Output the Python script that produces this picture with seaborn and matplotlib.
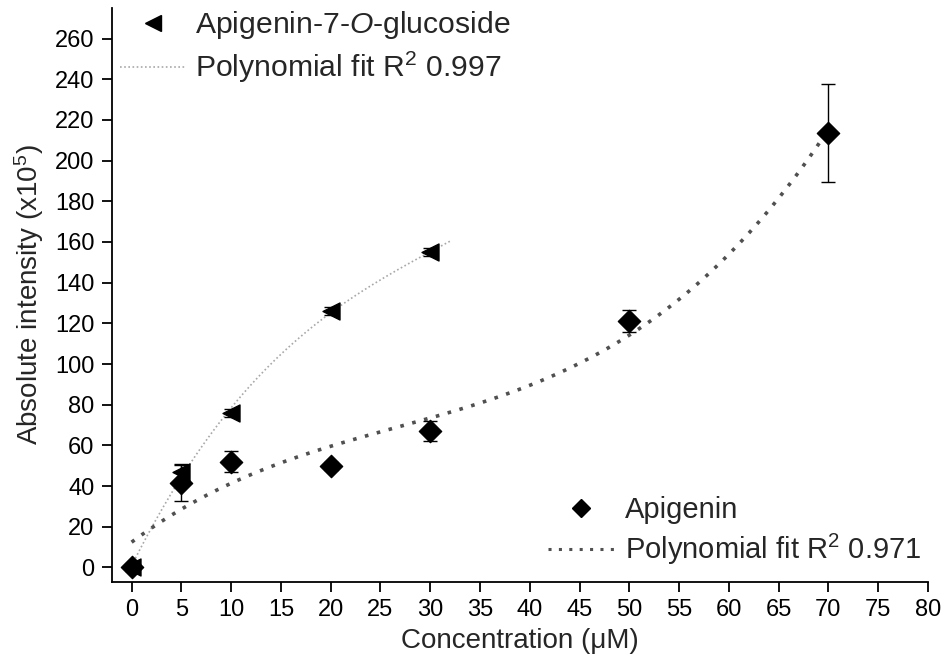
import numpy as np
import pandas as pd
import matplotlib
matplotlib.use("Agg")
import matplotlib.pyplot as plt
from matplotlib.lines import Line2D
import seaborn as sns

# Data
conc_api = [0, 5, 10, 20, 30, 50, 70]
int_api = [0, 41.5, 52, 50, 67, 121, 213.5]
err_api = [1.5, 9, 5, 2, 5, 5.5, 24]

conc_glu = [0, 5, 10, 20, 30]
int_glu = [0, 47, 76, 126, 155]
err_glu = [1, 4, 2, 2, 2]

label_glu = "Apigenin-7-$\\it{O}$-glucoside"
label_glu_fit = "Polynomial fit R$^2$ 0.997"
label_api = "Apigenin"
label_api_fit = "Polynomial fit R$^2$ 0.971"

sns.set_theme(style="ticks")
plt.rcParams['font.family'] = ['Liberation Sans', 'DejaVu Sans']
plt.rcParams['mathtext.fontset'] = 'custom'
plt.rcParams['mathtext.rm'] = 'Liberation Sans'
plt.rcParams['mathtext.it'] = 'Liberation Sans:italic'

fig = plt.figure(figsize=(9.44, 6.68), dpi=100)
ax = fig.add_axes([0.1183, 0.1292, 0.983 - 0.1183, 0.988 - 0.1292])

# Polynomial fits
c_glu = np.polyfit(conc_glu, int_glu, 3)
xg = np.linspace(0, 32, 200)
c_api = np.polyfit(conc_api, int_api, 3)
xa = np.linspace(0, 70, 300)
df_fit_g = pd.DataFrame({"x": xg, "y": np.polyval(c_glu, xg)})
df_fit_a = pd.DataFrame({"x": xa, "y": np.polyval(c_api, xa)})

sns.lineplot(data=df_fit_g, x="x", y="y", ax=ax, color="#a8a8a8", lw=1.2,
             linestyle=(0, (1, 1.5)), zorder=2)
sns.lineplot(data=df_fit_a, x="x", y="y", ax=ax, color="#505050", lw=2.6,
             linestyle=(0, (1, 2.4)), zorder=2)

ax.errorbar(conc_glu, int_glu, yerr=err_glu, fmt='none', ecolor='black',
            elinewidth=1, capsize=5, capthick=1, zorder=3)
ax.errorbar(conc_api, int_api, yerr=err_api, fmt='none', ecolor='black',
            elinewidth=1, capsize=5, capthick=1, zorder=3)

df_g = pd.DataFrame({"x": conc_glu, "y": int_glu})
df_a = pd.DataFrame({"x": conc_api, "y": int_api})
sns.scatterplot(data=df_g, x="x", y="y", ax=ax, marker="<", s=150,
                color="black", edgecolor="black", zorder=4)
sns.scatterplot(data=df_a, x="x", y="y", ax=ax, marker="D", s=130,
                color="black", edgecolor="black", zorder=4)

ax.set_xlim(-2, 80)
ax.set_ylim(-7, 275)
ax.set_xticks(np.arange(0, 81, 5))
ax.set_yticks(np.arange(0, 261, 20))
ax.tick_params(axis='both', direction='out', length=7.5, width=1.3,
               labelsize=17, colors='black', pad=5)
for s in ['top', 'right']:
    ax.spines[s].set_visible(False)
for s in ['left', 'bottom']:
    ax.spines[s].set_linewidth(1.3)
    ax.spines[s].set_color('black')

ax.set_xlabel("Concentration (\u03bcM)", fontsize=20, labelpad=5)
ax.set_ylabel("Absolute intensity (x10$^5$)", fontsize=20, labelpad=6)

h1 = [Line2D([], [], marker='<', color='black', linestyle='none', markersize=11),
      Line2D([], [], color="#a8a8a8", lw=1.2, linestyle=(0, (1, 1.5)))]
leg1 = ax.legend(h1, [label_glu, label_glu_fit], loc='upper left',
                 bbox_to_anchor=(0.010, 0.998), frameon=False, fontsize=21.7,
                 handlelength=2.2, handletextpad=0.3, labelspacing=0.3,
                 borderpad=0, borderaxespad=0)
ax.add_artist(leg1)
h2 = [Line2D([], [], marker='D', color='black', linestyle='none', markersize=9),
      Line2D([], [], color="#505050", lw=2.2, linestyle=(0, (1, 2.4)))]
ax.legend(h2, [label_api, label_api_fit], loc='lower right',
          bbox_to_anchor=(0.992, 0.026), frameon=False, fontsize=21,
          handlelength=2.3, handletextpad=0.35, labelspacing=0.25,
          borderpad=0, borderaxespad=0)

fig.savefig("out.png", dpi=100)
